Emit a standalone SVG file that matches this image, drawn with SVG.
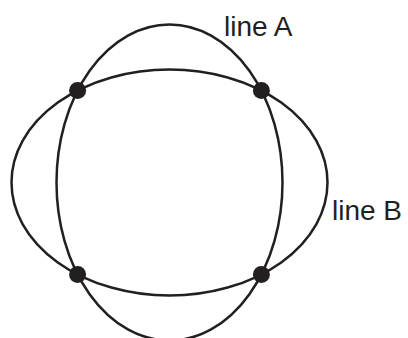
<svg xmlns="http://www.w3.org/2000/svg" width="408" height="338" viewBox="0 0 408 338">
<style>
.line{fill:none;stroke:#231f20;stroke-width:2.5}
.dot{fill:#231f20}
text{font-family:"Liberation Sans",Arial,sans-serif;font-size:28px;fill:#231f20}
</style>
<rect width="408" height="338" fill="#fff"/>
<g id="connectors">
<ellipse id="lineA" class="line" cx="169.5" cy="182.5" rx="113" ry="158"/>
<ellipse id="lineB" class="line" cx="169.5" cy="182.5" rx="158" ry="113"/>
</g>
<g id="n1"><circle class="dot" cx="77.6" cy="90.6" r="8.5"/></g>
<g id="n2"><circle class="dot" cx="261.4" cy="90.6" r="8.5"/></g>
<g id="n3"><circle class="dot" cx="77.6" cy="274.4" r="8.5"/></g>
<g id="n4"><circle class="dot" cx="261.4" cy="274.4" r="8.5"/></g>
<g id="labelA"><text x="224" y="35.5">line A</text></g>
<g id="labelB"><text x="332" y="219.5">line B</text></g>
</svg>
